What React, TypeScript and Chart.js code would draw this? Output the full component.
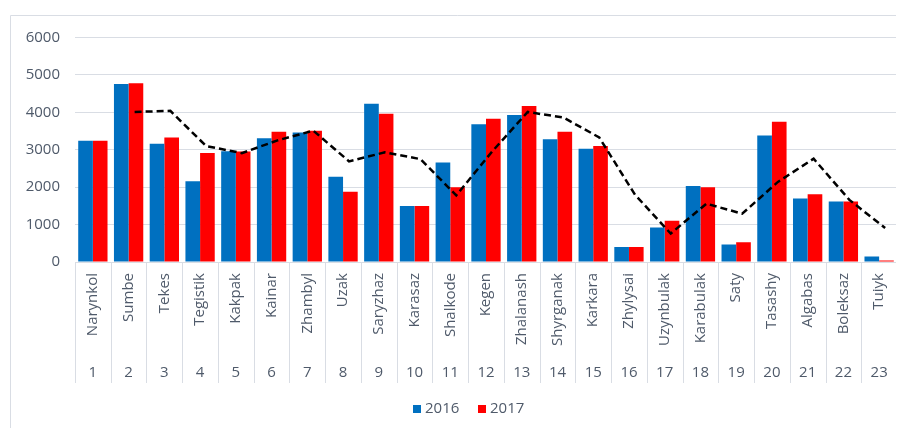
import React, { useEffect, useRef } from "react";
import { Chart, registerables } from "chart.js";

Chart.register(...registerables);

const categories = [
  "Narynkol", "Sumbe", "Tekes", "Tegistik", "Kakpak", "Kainar", "Zhambyl", "Uzak",
  "Saryzhaz", "Karasaz", "Shalkode", "Kegen", "Zhalanash", "Shyrganak", "Karkara",
  "Zhylysai", "Uzynbulak", "Karabulak", "Saty", "Tasashy", "Algabas", "Boleksaz", "Tuiyk",
];
const numbers = categories.map((_, i) => String(i + 1));
const values2016 = [3240, 4760, 3160, 2160, 2960, 3310, 3460, 2280, 4230, 1500, 2660, 3680, 3930, 3280, 3030, 400, 920, 2030, 470, 3380, 1700, 1620, 150];
const values2017 = [3240, 4780, 3330, 2910, 2950, 3480, 3510, 1880, 3960, 1500, 2000, 3830, 4170, 3480, 3100, 400, 1100, 2000, 530, 3750, 1810, 1620, 40];
const trendValues = [null, 4010, 4040, 3100, 2910, 3250, 3510, 2690, 2930, 2750, 1780, 2950, 4010, 3860, 3330, 1800, 760, 1560, 1290, 2140, 2760, 1660, 910];
const yTicks = [0, 1000, 2000, 3000, 4000, 5000, 6000];

const FONT = "'Open Sans', 'DejaVu Sans', sans-serif";
const TEXT = "#4f5a6a";
const GRID = "#d9dde4";
const BLUE = "#0070C0";
const RED = "#FF0000";

const tablePlugin = {
  id: "tablePlugin",
  beforeDatasetDraw(chart: any, args: any) {
    if (args.index === 2) {
      chart.ctx.save();
      chart.ctx.translate(6, 0);
    }
  },
  afterDatasetDraw(chart: any, args: any) {
    if (args.index === 2) chart.ctx.restore();
  },
  afterDraw(chart: any) {
    const ctx = chart.ctx;
    const area = chart.chartArea;
    const n = categories.length;
    const w = (area.right - area.left) / n;
    ctx.save();
    ctx.strokeStyle = GRID;
    ctx.lineWidth = 1;
    ctx.beginPath();
    ctx.moveTo(2.5, 420);
    ctx.lineTo(2.5, 7.5);
    ctx.lineTo(896, 7.5);
    ctx.stroke();
    ctx.beginPath();
    for (let i = 0; i <= n; i++) {
      const x = Math.round(area.left + i * w) + 0.5;
      ctx.moveTo(x, area.bottom);
      ctx.lineTo(x, 375);
    }
    ctx.stroke();
    ctx.fillStyle = TEXT;
    ctx.font = `15px ${FONT}`;
    for (let i = 0; i < n; i++) {
      const cx = area.left + (i + 0.5) * w;
      ctx.save();
      ctx.translate(cx, 265);
      ctx.rotate(-Math.PI / 2);
      ctx.textAlign = "right";
      ctx.textBaseline = "middle";
      ctx.fillText(categories[i], 0, 0);
      ctx.restore();
      ctx.textAlign = "center";
      ctx.textBaseline = "middle";
      ctx.fillText(numbers[i], cx, 365);
    }
    ctx.textAlign = "left";
    ctx.textBaseline = "middle";
    ctx.fillStyle = BLUE;
    ctx.fillRect(405, 397, 8, 8);
    ctx.fillStyle = TEXT;
    ctx.fillText("2016", 417, 401);
    ctx.fillStyle = RED;
    ctx.fillRect(470, 397, 8, 8);
    ctx.fillStyle = TEXT;
    ctx.fillText("2017", 482, 401);
    ctx.restore();
  },
};

export default function App() {
  const ref = useRef<HTMLCanvasElement | null>(null);
  useEffect(() => {
    if (!ref.current) return;
    const chart = new Chart(ref.current, {
      type: "bar",
      data: {
        labels: categories,
        datasets: [
          {
            type: "bar",
            label: "2016",
            data: values2016,
            backgroundColor: BLUE,
            borderWidth: 0,
            categoryPercentage: 0.82,
            barPercentage: 1,
            order: 2,
          },
          {
            type: "bar",
            label: "2017",
            data: values2017,
            backgroundColor: RED,
            borderWidth: 0,
            categoryPercentage: 0.82,
            barPercentage: 1,
            order: 3,
          },
          {
            type: "line",
            label: "trend",
            data: trendValues,
            borderColor: "#000000",
            borderWidth: 2.5,
            borderDash: [7, 4],
            pointRadius: 0,
            fill: false,
            tension: 0,
            spanGaps: false,
            order: 1,
          } as any,
        ],
      },
      options: {
        responsive: false,
        animation: false,
        devicePixelRatio: 1,
        layout: { padding: { top: 29.5, right: 7, bottom: 166, left: 0 } },
        plugins: { legend: { display: false }, tooltip: { enabled: false } },
        scales: {
          x: { display: false, offset: true },
          y: {
            min: 0,
            max: 6000,
            afterFit: (scale: any) => {
              scale.width = 67;
            },
            afterBuildTicks: (scale: any) => {
              scale.ticks = yTicks.map((v) => ({ value: v }));
            },
            border: { display: false },
            grid: { color: GRID, lineWidth: 1, drawTicks: false },
            ticks: {
              padding: 15,
              color: TEXT,
              font: { family: FONT, size: 15 },
              callback: (v: any) => String(v),
            },
          },
        },
      },
      plugins: [tablePlugin],
    });
    return () => chart.destroy();
  }, []);
  return (
    <div style={{ width: 896, height: 420 }}>
      <canvas ref={ref} width={896} height={420} style={{ width: 896, height: 420, display: "block" }} />
    </div>
  );
}
